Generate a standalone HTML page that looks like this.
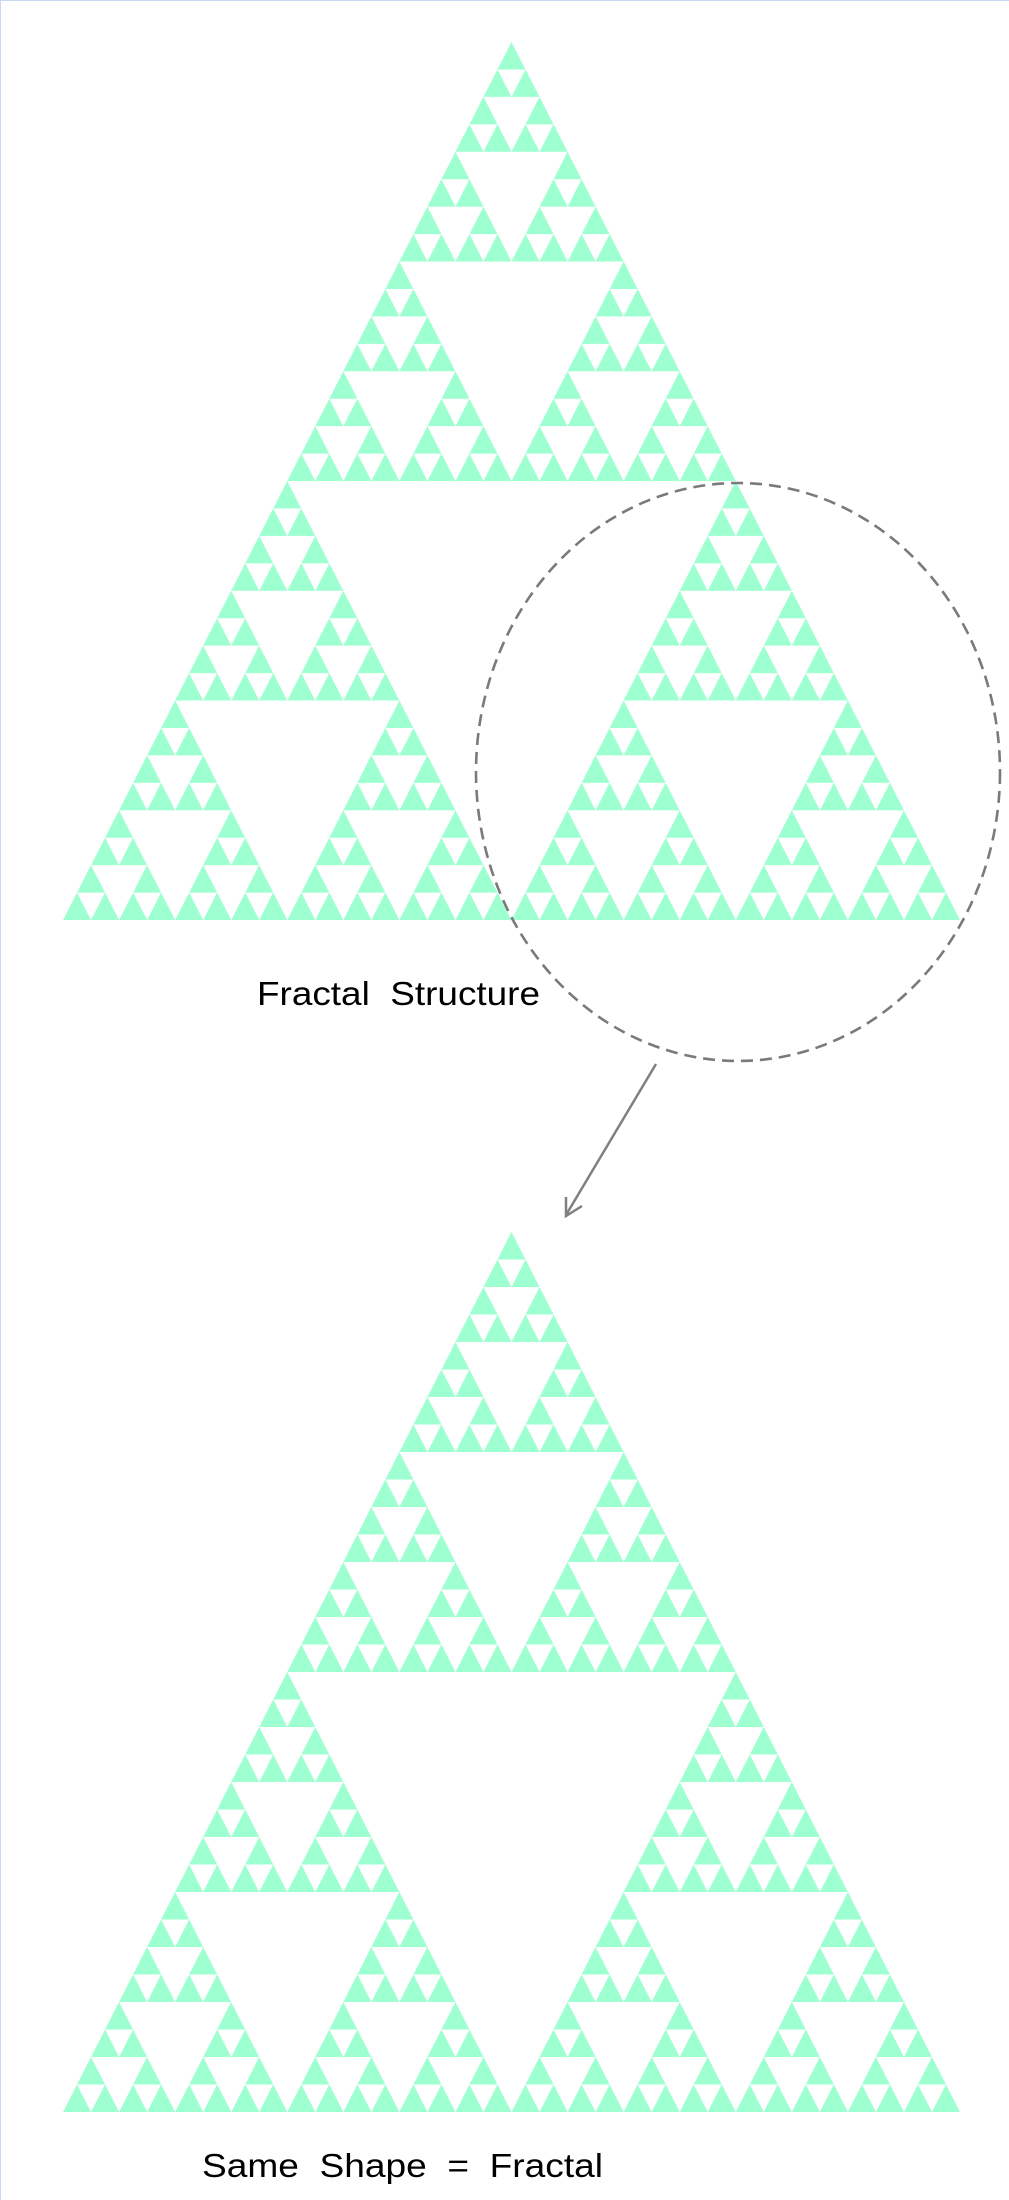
<!DOCTYPE html>
<html><head><meta charset="utf-8"><style>
html,body{margin:0;padding:0;background:#fff}
body{width:1009px;height:2200px;overflow:hidden;position:relative}
.b{position:absolute;left:0;top:0;width:1009px;height:2200px;box-sizing:border-box;border-left:1px solid #c9d9f2;border-top:1px solid #c9d9f2}
</style></head><body>
<svg width="1009" height="2200" viewBox="0 0 1009 2200" xmlns="http://www.w3.org/2000/svg" style="position:absolute;left:0;top:0">
<defs>
<polygon id="l0" points="0.5,0 1,1 0,1" fill="#9effd1"/>
<g id="l1"><use href="#l0" transform="translate(0.25,0) scale(0.5)"/><use href="#l0" transform="translate(0,0.5) scale(0.5)"/><use href="#l0" transform="translate(0.5,0.5) scale(0.5)"/></g>
<g id="l2"><use href="#l1" transform="translate(0.25,0) scale(0.5)"/><use href="#l1" transform="translate(0,0.5) scale(0.5)"/><use href="#l1" transform="translate(0.5,0.5) scale(0.5)"/></g>
<g id="l3"><use href="#l2" transform="translate(0.25,0) scale(0.5)"/><use href="#l2" transform="translate(0,0.5) scale(0.5)"/><use href="#l2" transform="translate(0.5,0.5) scale(0.5)"/></g>
<g id="l4"><use href="#l3" transform="translate(0.25,0) scale(0.5)"/><use href="#l3" transform="translate(0,0.5) scale(0.5)"/><use href="#l3" transform="translate(0.5,0.5) scale(0.5)"/></g>
<g id="l5"><use href="#l4" transform="translate(0.25,0) scale(0.5)"/><use href="#l4" transform="translate(0,0.5) scale(0.5)"/><use href="#l4" transform="translate(0.5,0.5) scale(0.5)"/></g>
</defs>
<use href="#l5" transform="translate(63,42) scale(897,878)"/>
<use href="#l5" transform="translate(63,1232) scale(897,880)"/>
<ellipse cx="738" cy="772" rx="262" ry="289" fill="none" stroke="#7a7a7a" stroke-width="2.6" stroke-dasharray="12,7"/>
<line x1="656" y1="1064" x2="566" y2="1215" stroke="#808080" stroke-width="2.5"/>
<polyline points="566,1197 566,1216 582,1206" fill="none" stroke="#808080" stroke-width="2.5"/>
<text x="257" y="1005" font-family="Liberation Sans, sans-serif" font-size="33" fill="#000" textLength="283" lengthAdjust="spacingAndGlyphs" xml:space="preserve">Fractal  Structure</text>
<text x="202" y="2177" font-family="Liberation Sans, sans-serif" font-size="33" fill="#000" textLength="401" lengthAdjust="spacingAndGlyphs" xml:space="preserve">Same  Shape  =  Fractal</text>
</svg>
<div class="b"></div>
</body></html>
